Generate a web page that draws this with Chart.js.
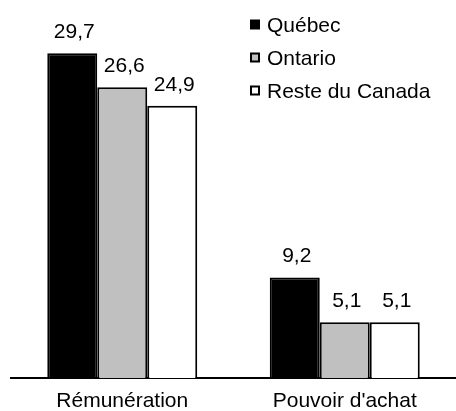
<!DOCTYPE html>
<html>
<head>
<meta charset="utf-8">
<script src="https://cdn.jsdelivr.net/npm/chart.js@4/dist/chart.umd.min.js"></script>
<style>
  body { margin: 0; background: #fff; }
  #wrap { width: 456px; height: 411px; }
</style>
</head>
<body>
<div id="wrap"><canvas id="graphique" width="456" height="411"></canvas></div>
<script>
// Données
const categories = ['Rémunération', "Pouvoir d'achat"];
const seriesNoms = ['Québec', 'Ontario', 'Reste du Canada'];
const quebec = [29.7, 9.2];
const ontario = [26.6, 5.1];
const resteCanada = [24.9, 5.1];

const famille = '"Liberation Sans", Arial, sans-serif';
const police = '21px ' + famille;

// Étiquettes de valeur au-dessus des barres
const etiquettesValeurs = {
    id: 'etiquettesValeurs',
    afterDatasetsDraw(chart) {
        const ctx = chart.ctx;
        ctx.save();
        ctx.font = police;
        ctx.fillStyle = '#000';
        ctx.textAlign = 'center';
        ctx.textBaseline = 'middle';
        chart.data.datasets.forEach((ds, i) => {
            chart.getDatasetMeta(i).data.forEach((bar, j) => {
                const texte = ds.data[j].toFixed(1).replace('.', ',');
                ctx.fillText(texte, bar.x + 2, bar.y - 21);
            });
        });
        ctx.restore();
    }
};

// Légende placée en haut à droite, par-dessus la zone du graphique
const legendeMaison = {
    id: 'legendeMaison',
    afterDraw(chart) {
        const ctx = chart.ctx;
        ctx.save();
        ctx.font = police;
        ctx.textBaseline = 'middle';
        chart.data.datasets.forEach((ds, i) => {
            const y = 25 + i * 33;
            ctx.fillStyle = ds.backgroundColor;
            ctx.fillRect(251, y - 4.5, 8, 8);
            ctx.strokeStyle = '#000';
            ctx.lineWidth = 2;
            ctx.strokeRect(251, y - 4.5, 8, 8);
            ctx.fillStyle = '#000';
            ctx.fillText(ds.label, 267, y + 1);
        });
        ctx.restore();
    }
};

const ctx = document.getElementById('graphique').getContext('2d');
new Chart(ctx, {
    type: 'bar',
    data: {
        labels: categories,
        datasets: [
            { label: seriesNoms[0], data: quebec, backgroundColor: '#000000' },
            { label: seriesNoms[1], data: ontario, backgroundColor: '#c0c0c0' },
            { label: seriesNoms[2], data: resteCanada, backgroundColor: '#ffffff' }
        ]
    },
    options: {
        responsive: false,
        animation: false,
        layout: { padding: { top: 50, left: 11, right: 0, bottom: 0 } },
        datasets: {
            bar: {
                borderColor: '#000',
                borderWidth: 2,
                categoryPercentage: 0.674,
                barPercentage: 1
            }
        },
        scales: {
            x: {
                grid: { display: false },
                border: { display: true, color: '#000', width: 2 },
                ticks: {
                    color: '#000',
                    padding: 4,
                    font: { family: famille, size: 21, lineHeight: 1.05 }
                },
                afterFit(scale) { scale.height = 33; }
            },
            y: {
                display: false,
                min: 0,
                max: 30
            }
        },
        plugins: {
            legend: { display: false },
            tooltip: { enabled: false }
        }
    },
    plugins: [etiquettesValeurs, legendeMaison]
});
</script>
</body>
</html>
